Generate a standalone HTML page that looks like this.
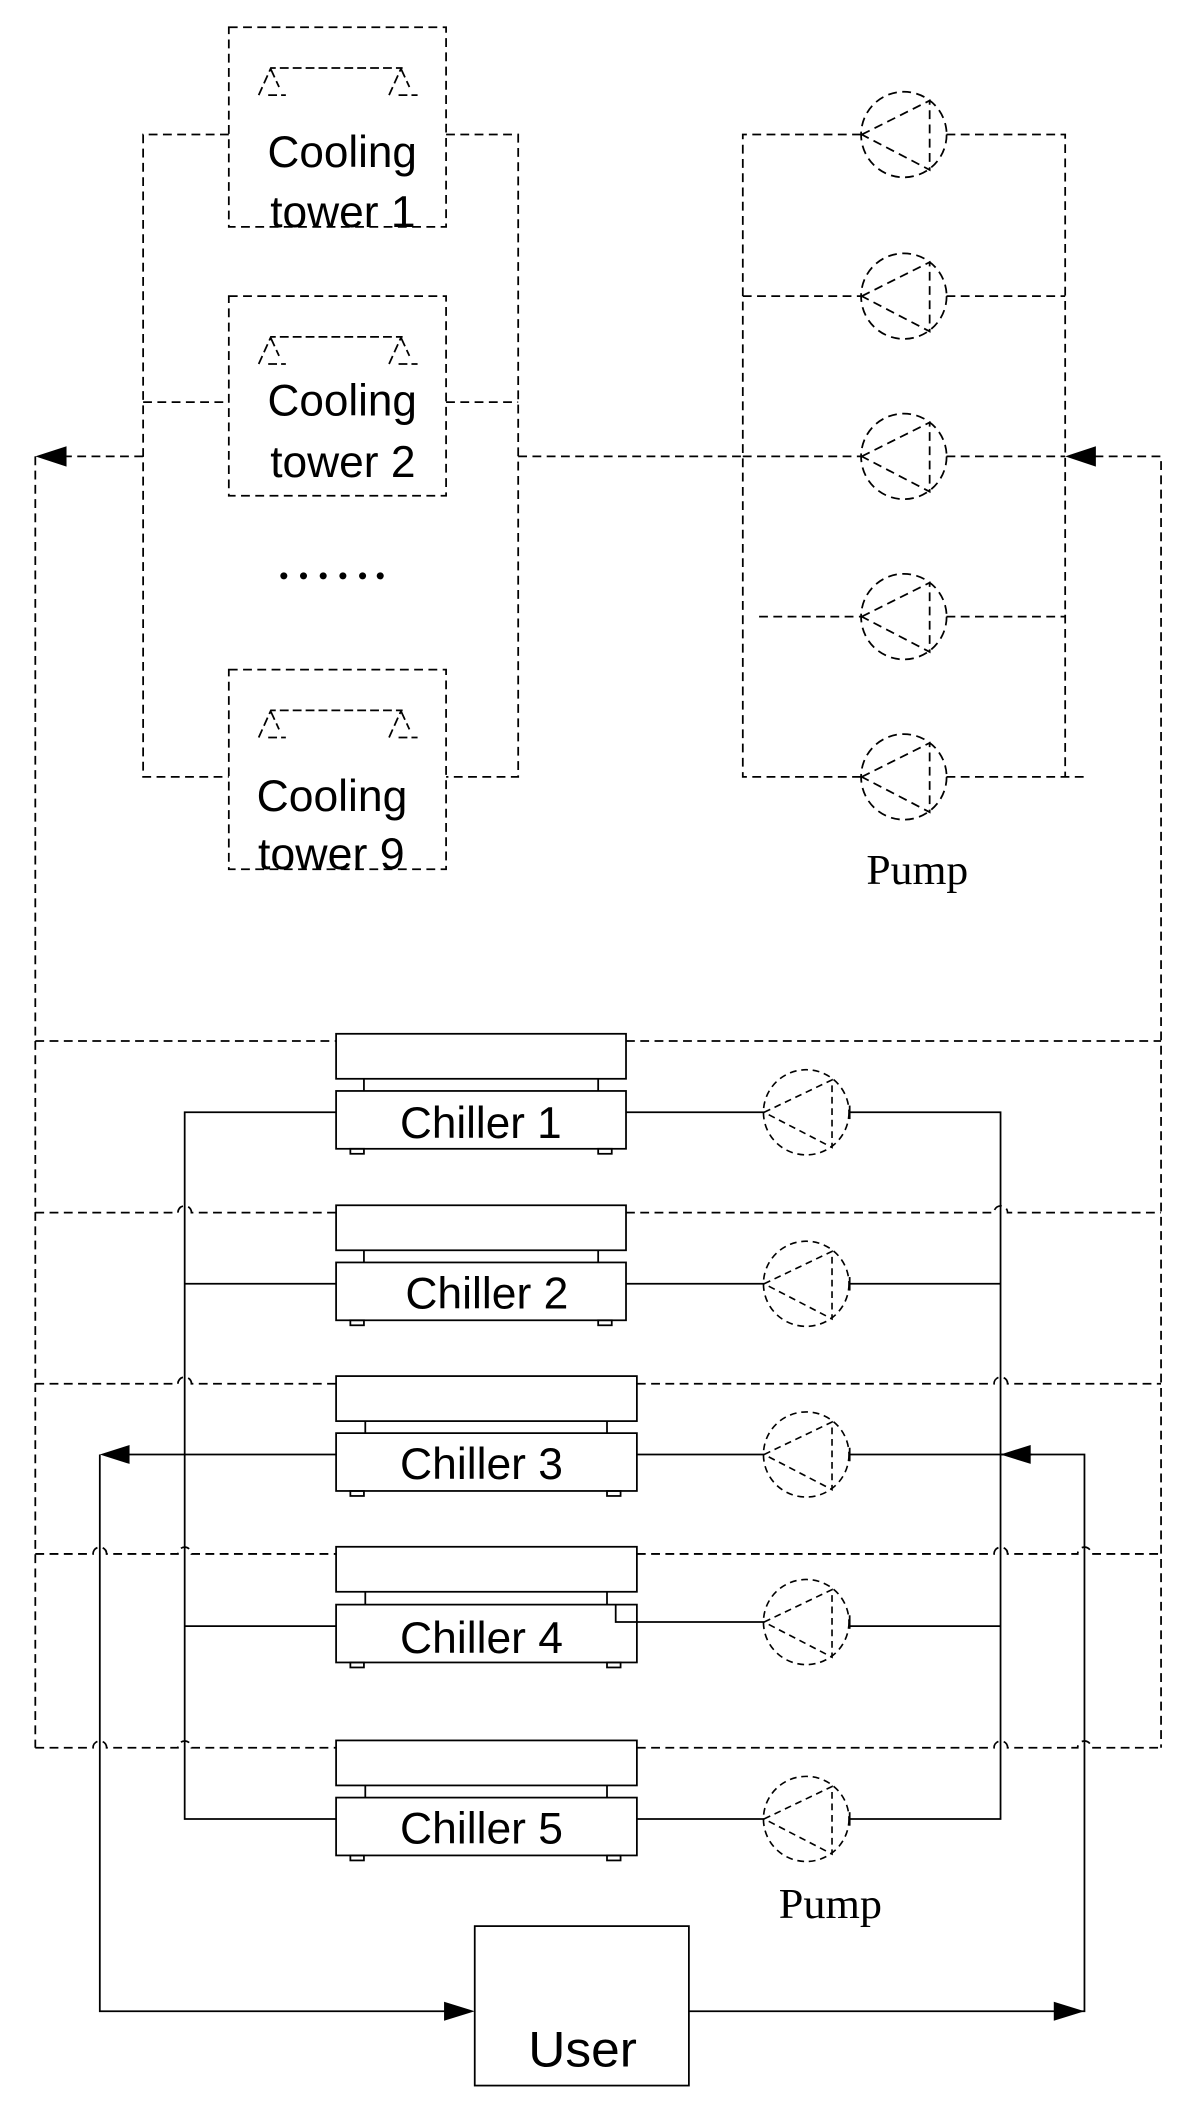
<!DOCTYPE html>
<html><head><meta charset="utf-8"><style>
html,body{margin:0;padding:0;background:#fff;}
svg{display:block;}
</style></head><body>
<svg width="1195" height="2120" viewBox="0 0 880 1561" xmlns="http://www.w3.org/2000/svg">
<defs>
<g id="tower">
  <rect x="0" y="0" width="160" height="147" fill="none" stroke="#000" stroke-width="1.3" stroke-dasharray="6.5 4"/>
  <path d="M22 50 L31 30 L128 30 M31 31 L37 44 M29 50 L42 50 M118 50 L127 30 M127 31 L133 44 M125 50 L139 50" fill="none" stroke="#000" stroke-width="1.3" stroke-dasharray="6.5 3"/>
</g>
<g id="pumpd">
  <circle cx="0" cy="0" r="31.5" fill="none" stroke="#000" stroke-width="1.3" stroke-dasharray="6.5 4"/>
  <path d="M-31 0 L19 -25 L19 26 Z" fill="none" stroke="#000" stroke-width="1.3" stroke-dasharray="6.5 4"/>
</g>
<g id="pumpc">
  <circle cx="0" cy="0" r="31.5" fill="none" stroke="#000" stroke-width="1.2" stroke-dasharray="5 3.5"/>
  <path d="M-31 0 L19 -24 L19 26 Z" fill="none" stroke="#000" stroke-width="1.2" stroke-dasharray="5 3.5"/>
  <path d="M32 -5 L32 5" stroke="#000" stroke-width="1.3"/>
</g>
</defs>

<g fill="none" stroke="#000" stroke-width="1.3" stroke-dasharray="6.5 4">
  <path d="M168.5 99 L105.4 99 L105.4 572 L168.5 572"/>
  <path d="M328.5 99 L381.6 99 L381.6 572 L328.5 572"/>
  <path d="M105.4 296 L168.5 296 M328.5 296 L381.6 296"/>
  <path d="M105.4 336 L49 336"/>
  <path d="M26 336 L26 1287"/>
  <path d="M634 99 L547 99 L547 572 L634 572"/>
  <path d="M697 99 L784.4 99 L784.4 572 M697 572 L800 572"/>
  <path d="M547 218 L634 218 M697 218 L784.4 218"/>
  <path d="M547 336 L634 336 M697 336 L784.4 336"/>
  <path d="M559 454 L634 454 M697 454 L784.4 454"/>
  <path d="M381.6 336 L547 336"/>
  <path d="M806 336 L855 336 L855 1287"/>
</g>
<path d="M26 336 L49 328.5 L49 343.5 Z" fill="#000"/>
<path d="M784.4 336 L807 328.5 L807 343.5 Z" fill="#000"/>

<use href="#tower" x="168.5" y="20"/>
<use href="#tower" x="168.5" y="218"/>
<use href="#tower" x="168.5" y="493"/>
<g font-family="Liberation Sans, Arial, sans-serif" font-size="33" fill="#000">
  <text x="197" y="123" textLength="110" lengthAdjust="spacingAndGlyphs">Cooling</text>
  <text x="199" y="167" textLength="107" lengthAdjust="spacingAndGlyphs">tower 1</text>
  <text x="197" y="306" textLength="110" lengthAdjust="spacingAndGlyphs">Cooling</text>
  <text x="199" y="351" textLength="107" lengthAdjust="spacingAndGlyphs">tower 2</text>
  <text x="189" y="597" textLength="111" lengthAdjust="spacingAndGlyphs">Cooling</text>
  <text x="190" y="640" textLength="108" lengthAdjust="spacingAndGlyphs">tower 9</text>
</g>
<g fill="#000">
  <circle cx="209" cy="424" r="2.6"/><circle cx="223.5" cy="424" r="2.6"/><circle cx="238" cy="424" r="2.6"/>
  <circle cx="252.5" cy="424" r="2.6"/><circle cx="267" cy="424" r="2.6"/><circle cx="280" cy="424" r="2.6"/>
</g>

<use href="#pumpd" x="665.6" y="99"/>
<use href="#pumpd" x="665.6" y="218"/>
<use href="#pumpd" x="665.6" y="336"/>
<use href="#pumpd" x="665.6" y="454"/>
<use href="#pumpd" x="665.6" y="572"/>
<text x="638" y="651" font-family="Liberation Serif, Times New Roman, serif" font-size="31" textLength="75" lengthAdjust="spacingAndGlyphs">Pump</text>

<g transform="matrix(1,0,0,0.99516,0,0.2)">
<g fill="none" stroke="#000" stroke-width="1.3" stroke-dasharray="6.5 4">
  <path d="M26 770 L247.5 770 M461 770 L855 770"/>
  <path d="M26 897 L131 897 A5 5 0 0 1 141 897 L247.5 897 M461 897 L732 897 A5 5 0 0 1 742 897 L855 897"/>
  <path d="M26 1023.7 L131 1023.7 A5 5 0 0 1 141 1023.7 L247.5 1023.7 M469 1023.7 L732 1023.7 A5 5 0 0 1 742 1023.7 L855 1023.7"/>
  <path d="M26 1149.6 L68.5 1149.6 A5 5 0 0 1 78.5 1149.6 L131 1149.6 A5 5 0 0 1 141 1149.6 L247.5 1149.6 M469 1149.6 L732 1149.6 A5 5 0 0 1 742 1149.6 L793.6 1149.6 A5 5 0 0 1 803.6 1149.6 L855 1149.6"/>
  <path d="M26 1293 L68.5 1293 A5 5 0 0 1 78.5 1293 L131 1293 A5 5 0 0 1 141 1293 L247.5 1293 M469 1293 L732 1293 A5 5 0 0 1 742 1293 L793.6 1293 A5 5 0 0 1 803.6 1293 L855 1293"/>
</g>
<g fill="none" stroke="#000" stroke-width="1.3">
  <path d="M247.5 822.8 L136 822.8 L136 1345.7 L247.5 1345.7"/>
  <path d="M136 949.7 L247.5 949.7 M136 1203 L247.5 1203 M95 1076 L247.5 1076"/>
  <path d="M73.5 1076 L73.5 1488 L330 1488"/>
  <path d="M625.7 822.8 L736.8 822.8 L736.8 1345.7 L625.7 1345.7"/>
  <path d="M625.7 949.7 L736.8 949.7 M625.7 1203 L736.8 1203 M625.7 1076 L760 1076"/>
  <path d="M736.8 1076 L798.6 1076 L798.6 1488 L507.3 1488"/>
  <path d="M461 822.8 L563 822.8 M461 949.7 L563 949.7 M469 1076 L563 1076 M453.4 1187 L453.4 1200 L563 1200 M469 1345.7 L563 1345.7"/>
  <rect x="349.6" y="1425" width="157.7" height="118"/>

  <rect x="247.5" y="764.7" width="213.5" height="33.3"/>
  <rect x="247.5" y="807" width="213.5" height="42.8"/>
  <path d="M268 798 L268 807 M440.5 798 L440.5 807"/>
  <rect x="258" y="849.8" width="10" height="3.7"/><rect x="440.5" y="849.8" width="10" height="3.7"/>
  <rect x="247.5" y="891.6" width="213.5" height="33.3"/>
  <rect x="247.5" y="933.9" width="213.5" height="42.8"/>
  <path d="M268 924.9 L268 933.9 M440.5 924.9 L440.5 933.9"/>
  <rect x="258" y="976.7" width="10" height="3.7"/><rect x="440.5" y="976.7" width="10" height="3.7"/>
  <rect x="247.5" y="1018" width="221.5" height="33.3"/>
  <rect x="247.5" y="1060.2" width="221.5" height="42.8"/>
  <path d="M269 1051.3 L269 1060.2 M447 1051.3 L447 1060.2"/>
  <rect x="258" y="1103" width="10" height="3.7"/><rect x="447" y="1103" width="10" height="3.7"/>
  <rect x="247.5" y="1144.3" width="221.5" height="33.3"/>
  <rect x="247.5" y="1187.1" width="221.5" height="42.8"/>
  <path d="M269 1177.6 L269 1187.1 M447 1177.6 L447 1187.1"/>
  <rect x="258" y="1229.9" width="10" height="3.7"/><rect x="447" y="1229.9" width="10" height="3.7"/>
  <rect x="247.5" y="1287.6" width="221.5" height="33.3"/>
  <rect x="247.5" y="1329.9" width="221.5" height="42.8"/>
  <path d="M269 1320.9 L269 1329.9 M447 1320.9 L447 1329.9"/>
  <rect x="258" y="1372.7" width="10" height="3.7"/><rect x="447" y="1372.7" width="10" height="3.7"/>
</g>
<g fill="#000">
  <path d="M73.5 1076 L95.4 1069 L95.4 1083 Z"/>
  <path d="M736.8 1076 L759 1069 L759 1083 Z"/>
  <path d="M349.6 1488 L327 1481 L327 1495 Z"/>
  <path d="M798.6 1488 L776 1481 L776 1495 Z"/>
</g>

<use href="#pumpc" x="593.7" y="822.8"/>
<use href="#pumpc" x="593.7" y="949.7"/>
<use href="#pumpc" x="593.7" y="1076"/>
<use href="#pumpc" x="593.7" y="1200"/>
<use href="#pumpc" x="593.7" y="1345.7"/>

<g font-family="Liberation Sans, Arial, sans-serif" font-size="33" fill="#000">
  <text x="294.6" y="842" textLength="119" lengthAdjust="spacingAndGlyphs">Chiller 1</text>
  <text x="298.5" y="968" textLength="120" lengthAdjust="spacingAndGlyphs">Chiller 2</text>
  <text x="294.6" y="1094" textLength="120" lengthAdjust="spacingAndGlyphs">Chiller 3</text>
  <text x="294.6" y="1223" textLength="120" lengthAdjust="spacingAndGlyphs">Chiller 4</text>
  <text x="294.6" y="1364" textLength="120" lengthAdjust="spacingAndGlyphs">Chiller 5</text>
  <text x="389" y="1529" font-size="37" textLength="80" lengthAdjust="spacingAndGlyphs">User</text>
</g>
<text x="573.5" y="1419" font-family="Liberation Serif, Times New Roman, serif" font-size="31" textLength="76" lengthAdjust="spacingAndGlyphs">Pump</text>
</g>
</svg>
</body></html>
